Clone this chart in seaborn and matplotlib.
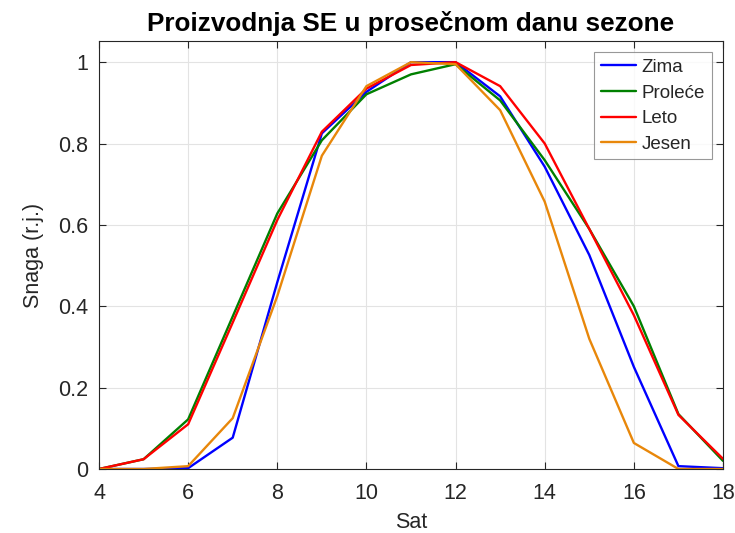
import pandas as pd
import matplotlib
matplotlib.use('Agg')
import matplotlib.pyplot as plt
import seaborn as sns

# ==============================================================================
# Data
# ==============================================================================
hours = [4, 5, 6, 7, 8, 9, 10, 11, 12, 13, 14, 15, 16, 17, 18]
zima = [0.0, 0.0, 0.002, 0.077, 0.459, 0.825, 0.927, 1.0, 1.0, 0.916, 0.743, 0.526, 0.251, 0.007, 0.002]
prolece = [0.0, 0.024, 0.122, 0.375, 0.628, 0.808, 0.921, 0.970, 0.995, 0.906, 0.759, 0.59, 0.40, 0.135, 0.02]
leto = [0.0, 0.024, 0.11, 0.36, 0.612, 0.829, 0.935, 0.993, 1.0, 0.941, 0.80, 0.59, 0.378, 0.133, 0.025]
jesen = [0.0, 0.0, 0.007, 0.125, 0.425, 0.77, 0.941, 1.0, 0.995, 0.882, 0.657, 0.32, 0.064, 0.0, 0.0]

seasons = ['Zima', 'Proleće', 'Leto', 'Jesen']
colors = ['#0000ff', '#008000', '#ff0000', '#e8870a']

df = pd.concat([
    pd.DataFrame({'Sat': hours, 'Snaga': vals, 'Sezona': name})
    for name, vals in zip(seasons, [zima, prolece, leto, jesen])
], ignore_index=True)

# ==============================================================================
# Plot
# ==============================================================================
sns.set_theme(style='white')
plt.rcParams['font.family'] = ['Liberation Sans', 'DejaVu Sans']

fig = plt.figure(figsize=(7.35, 5.33), dpi=100)
ax = fig.add_axes([99 / 735, 64 / 533, 624 / 735, 428 / 533])

sns.lineplot(data=df, x='Sat', y='Snaga', hue='Sezona', hue_order=seasons,
             palette=dict(zip(seasons, colors)), linewidth=1.7, ax=ax)

ax.set_xlim(4, 18)
ax.set_ylim(0, 1.052)
ax.set_xticks(range(4, 19, 2))
ax.set_yticks([0, 0.2, 0.4, 0.6, 0.8, 1.0])
ax.set_yticklabels(['0', '0.2', '0.4', '0.6', '0.8', '1'])
ax.grid(True, color='#e3e3e3', linewidth=0.8)
ax.set_axisbelow(True)

for side in ax.spines.values():
    side.set_color('#262626')
    side.set_linewidth(0.8)
ax.tick_params(direction='in', length=5, width=0.8, colors='#262626',
               labelsize=15.5, top=True, right=True, bottom=True, left=True,
               labeltop=False, labelright=False)
ax.tick_params(axis='x', pad=10)
ax.tick_params(axis='y', pad=8)

ax.set_xlabel('Sat', fontsize=15.5, color='#262626', labelpad=6)
ax.set_ylabel('Snaga (r.j.)', fontsize=15.5, color='#262626', labelpad=10)
ax.set_title('Proizvodnja SE u prosečnom danu sezone', fontsize=18.8,
             fontweight='bold', color='black', pad=7)

leg = ax.legend(title=None, loc='upper right', fontsize=13.5, frameon=True,
                fancybox=False, edgecolor='#7f7f7f', handlelength=1.9,
                handletextpad=0.3, borderpad=0.35, labelspacing=0.45,
                borderaxespad=0.6)
leg.get_frame().set_linewidth(0.8)

plt.savefig('out.png', dpi=100)
